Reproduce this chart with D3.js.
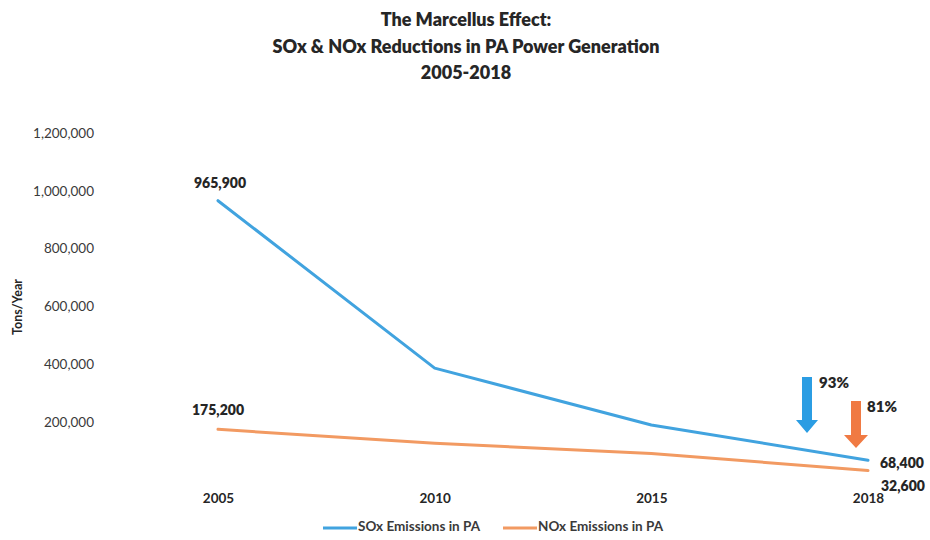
<!DOCTYPE html>
<html>
<head>
<meta charset="utf-8">
<script src="https://cdn.jsdelivr.net/npm/d3@7"></script>
<style>
  html, body { margin: 0; padding: 0; background: #fff; }
  svg { display: block; font-family: Lato, "Open Sans", sans-serif; }
</style>
</head>
<body>
<svg id="chart" width="930" height="540"></svg>
<script>
// Emissions from Pennsylvania power generation, tons per year
const years = ["2005", "2010", "2015", "2018"];
const soxValues = [965900, 387000, 190000, 68400];
const noxValues = [175200, 127000, 92000, 32600];
const yTicks = [200000, 400000, 600000, 800000, 1000000, 1200000];
const titleLines = [
  "The Marcellus Effect:",
  "SOx & NOx Reductions in PA Power Generation",
  "2005-2018"
];
const seriesNames = ["SOx Emissions in PA", "NOx Emissions in PA"];

const soxColor = "#41a3df";
const noxColor = "#f29a62";
const soxArrow = "#2b9de3";
const noxArrow = "#f07a43";
const textColor = "#262626";

const svg = d3.select("#chart");

const x = d3.scalePoint().domain(years).range([218, 868]);
const y = d3.scaleLinear().domain([0, 1200000]).range([480, 133]);

// Title
svg.append("g").selectAll("text")
  .data(titleLines)
  .join("text")
  .attr("x", 466)
  .attr("y", (d, i) => 26 + i * 26.5)
  .attr("text-anchor", "middle")
  .attr("font-size", 18)
  .attr("font-weight", 800)
  .attr("fill", textColor)
  .text(d => d);

// Y axis (labels only)
const yAxis = svg.append("g")
  .attr("transform", "translate(96,0)")
  .call(d3.axisLeft(y).tickValues(yTicks).tickFormat(d3.format(",")).tickSize(0).tickPadding(2));
yAxis.select(".domain").remove();
yAxis.selectAll("text")
  .attr("font-family", "Lato, sans-serif")
  .attr("font-size", 13.5)
  .attr("fill", "#3a3a3a");

svg.append("text")
  .attr("transform", "translate(22,307) rotate(-90)")
  .attr("text-anchor", "middle")
  .attr("font-size", 12.5)
  .attr("font-weight", 700)
  .attr("fill", textColor)
  .text("Tons/Year");

// X axis (labels only)
const xAxis = svg.append("g")
  .attr("transform", "translate(0,493)")
  .call(d3.axisBottom(x).tickSize(0).tickPadding(0));
xAxis.select(".domain").remove();
xAxis.selectAll("text")
  .attr("font-family", "Lato, sans-serif")
  .attr("font-size", 13.5)
  .attr("font-weight", 700)
  .attr("fill", textColor);

// Series lines
const line = d3.line()
  .x((d, i) => x(years[i]))
  .y(d => y(d));

svg.append("path")
  .datum(noxValues)
  .attr("d", line)
  .attr("fill", "none")
  .attr("stroke", noxColor)
  .attr("stroke-width", 3)
  .attr("stroke-linejoin", "round")
  .attr("stroke-linecap", "round");

svg.append("path")
  .datum(soxValues)
  .attr("d", line)
  .attr("fill", "none")
  .attr("stroke", soxColor)
  .attr("stroke-width", 3)
  .attr("stroke-linejoin", "round")
  .attr("stroke-linecap", "round");

// Value labels at the start and end of each series
const fmt = d3.format(",");
const first = years[0], last = years[years.length - 1];
const valueLabels = [
  { yr: first, v: soxValues[0], dx: 2, dy: -16, anchor: "middle" },
  { yr: first, v: noxValues[0], dx: 0, dy: -18, anchor: "middle" },
  { yr: last, v: soxValues[soxValues.length - 1], dx: 12, dy: 4, anchor: "start" },
  { yr: last, v: noxValues[noxValues.length - 1], dx: 13, dy: 17, anchor: "start" }
];
svg.append("g").selectAll("text")
  .data(valueLabels)
  .join("text")
  .attr("x", d => x(d.yr) + d.dx)
  .attr("y", d => y(d.v) + d.dy)
  .attr("text-anchor", d => d.anchor)
  .attr("dominant-baseline", "middle")
  .attr("font-size", 14)
  .attr("font-weight", 800)
  .attr("fill", textColor)
  .text(d => fmt(d.v));

// Reduction arrows with percentage drop since the first year
function downArrow(cx, top, tip, shaftW, headW, headH, color) {
  const p = d3.path();
  p.moveTo(cx - shaftW / 2, top);
  p.lineTo(cx + shaftW / 2, top);
  p.lineTo(cx + shaftW / 2, tip - headH);
  p.lineTo(cx + headW / 2, tip - headH);
  p.lineTo(cx, tip);
  p.lineTo(cx - headW / 2, tip - headH);
  p.lineTo(cx - shaftW / 2, tip - headH);
  p.closePath();
  svg.append("path").attr("d", p.toString()).attr("fill", color);
}

const soxDrop = 1 - soxValues[soxValues.length - 1] / soxValues[0];
const noxDrop = 1 - noxValues[noxValues.length - 1] / noxValues[0];
const pct = d3.format(".0%");

const xl = x(last);
downArrow(xl - 61, 377, 433, 10, 22, 13, soxArrow);
downArrow(xl - 12, 401, 448, 10, 24, 13, noxArrow);

svg.append("text")
  .attr("x", xl - 49).attr("y", 384)
  .attr("dominant-baseline", "middle")
  .attr("font-size", 15).attr("font-weight", 800).attr("fill", textColor)
  .text(pct(soxDrop));
svg.append("text")
  .attr("x", xl - 1).attr("y", 408)
  .attr("dominant-baseline", "middle")
  .attr("font-size", 15).attr("font-weight", 800).attr("fill", textColor)
  .text(pct(noxDrop));

// Legend
const legend = svg.append("g").attr("transform", "translate(0,528)");
const legendItems = [
  { name: seriesNames[0], color: soxColor, x0: 323 },
  { name: seriesNames[1], color: noxColor, x0: 503 }
];
const li = legend.selectAll("g").data(legendItems).join("g")
  .attr("transform", d => `translate(${d.x0},0)`);
li.append("line")
  .attr("x1", 0).attr("x2", 34).attr("y1", 0).attr("y2", 0)
  .attr("stroke", d => d.color).attr("stroke-width", 3);
li.append("text")
  .attr("x", 35).attr("y", 0)
  .attr("dominant-baseline", "middle")
  .attr("font-size", 13.5).attr("font-weight", 700).attr("fill", "#3a3a3a")
  .text(d => d.name);
</script>
</body>
</html>
